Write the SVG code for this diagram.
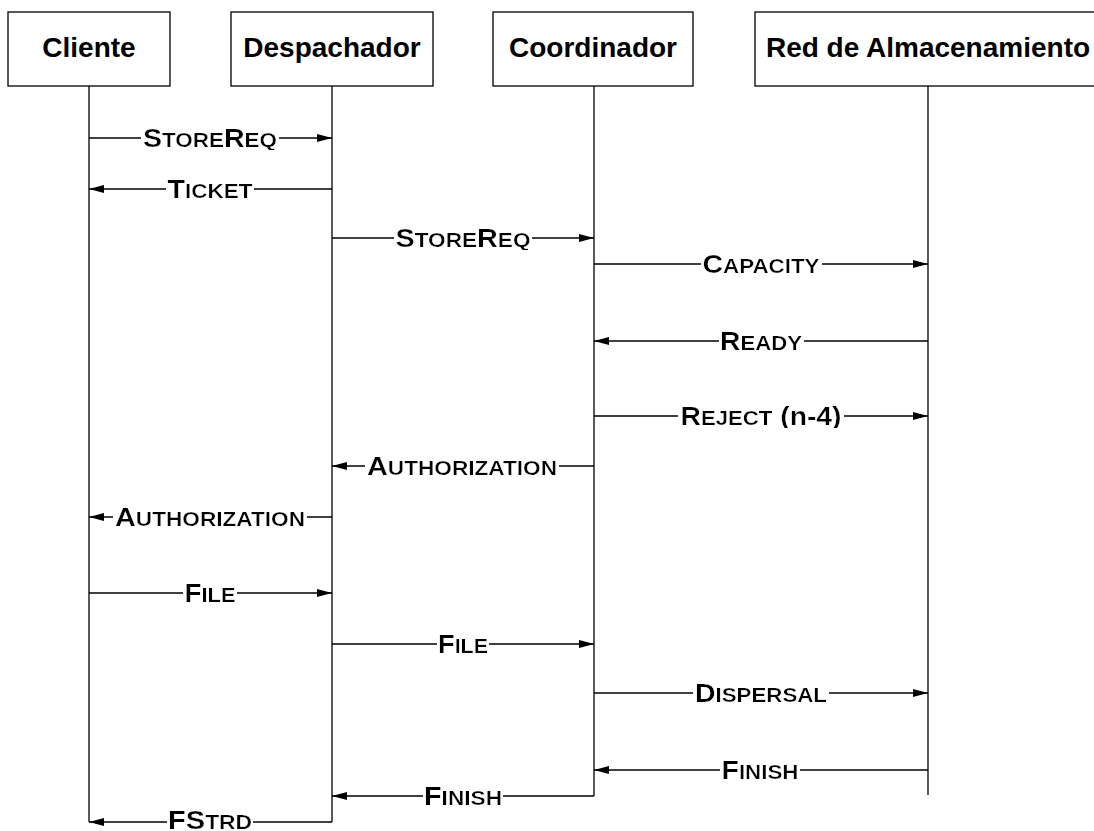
<svg xmlns="http://www.w3.org/2000/svg" width="1094" height="831" viewBox="0 0 1094 831">
  <style>
    .box { fill: #fff; stroke: #000; stroke-width: 1.3; }
    .life { stroke: #000; stroke-width: 1.3; fill: none; }
    .msg { stroke: #000; stroke-width: 1.3; fill: none; marker-end: url(#arrow); }
    .head { font-family: "Liberation Sans", Arial, sans-serif; font-weight: bold; font-size: 28px; text-anchor: middle; fill: #000; }
    .lbl { font-family: "Liberation Sans", Arial, sans-serif; font-weight: bold; text-anchor: middle; fill: #000; filter: url(#bg); }
    .b { font-size: 25.5px; }
    .s { font-size: 20px; }
  </style>
  <defs>
    <marker id="arrow" markerUnits="userSpaceOnUse" markerWidth="15" markerHeight="8" refX="15" refY="4" orient="auto">
      <path d="M0,0 L15,4 L0,8 z" fill="#000"/>
    </marker>
    <!-- white backdrop behind message labels, breaking the line -->
    <filter id="bg" x="-0.01" y="0.1" width="1.02" height="0.8">
      <feFlood flood-color="#fff"/>
      <feComposite in="SourceGraphic" operator="over"/>
    </filter>
  </defs>

  <rect width="1094" height="831" fill="#fff"/>

  <!-- participants -->
  <g id="cliente">
    <rect class="box" x="8" y="12" width="162" height="74"/>
    <text class="head" x="89" y="57">Cliente</text>
    <line class="life" x1="89" y1="86" x2="89" y2="822"/>
  </g>
  <g id="despachador">
    <rect class="box" x="231" y="12" width="202" height="74"/>
    <text class="head" x="332" y="57">Despachador</text>
    <line class="life" x1="332" y1="86" x2="332" y2="822"/>
  </g>
  <g id="coordinador">
    <rect class="box" x="493" y="12" width="200" height="74"/>
    <text class="head" x="593" y="57">Coordinador</text>
    <line class="life" x1="594" y1="86" x2="594" y2="796"/>
  </g>
  <g id="red">
    <rect class="box" x="755" y="12" width="346" height="74"/>
    <text class="head" x="928" y="57">Red de Almacenamiento</text>
    <line class="life" x1="928" y1="86" x2="928" y2="795"/>
  </g>

  <!-- messages -->
  <g id="connectors">
    <line class="msg" x1="89" y1="138" x2="332" y2="138"/>
    <line class="msg" x1="332" y1="189" x2="89" y2="189"/>
    <line class="msg" x1="332" y1="238" x2="594" y2="238"/>
    <line class="msg" x1="594" y1="264" x2="928" y2="264"/>
    <line class="msg" x1="928" y1="341" x2="594" y2="341"/>
    <line class="msg" x1="594" y1="416" x2="928" y2="416"/>
    <line class="msg" x1="594" y1="466" x2="332" y2="466"/>
    <line class="msg" x1="332" y1="517" x2="89" y2="517"/>
    <line class="msg" x1="89" y1="593" x2="332" y2="593"/>
    <line class="msg" x1="332" y1="644" x2="594" y2="644"/>
    <line class="msg" x1="594" y1="693" x2="928" y2="693"/>
    <line class="msg" x1="928" y1="770" x2="594" y2="770"/>
    <line class="msg" x1="594" y1="796" x2="332" y2="796"/>
    <line class="msg" x1="332" y1="822" x2="89" y2="822"/>
  </g>

  <!-- message labels (small caps, slightly widened) -->
  <g id="labels">
    <text class="lbl" x="210" y="147" textLength="134" lengthAdjust="spacingAndGlyphs"><tspan class="b">S</tspan><tspan class="s">TORE</tspan><tspan class="b">R</tspan><tspan class="s">EQ</tspan></text>
    <text class="lbl" x="210" y="198" textLength="85" lengthAdjust="spacingAndGlyphs"><tspan class="b">T</tspan><tspan class="s">ICKET</tspan></text>
    <text class="lbl" x="463" y="247" textLength="135" lengthAdjust="spacingAndGlyphs"><tspan class="b">S</tspan><tspan class="s">TORE</tspan><tspan class="b">R</tspan><tspan class="s">EQ</tspan></text>
    <text class="lbl" x="761" y="273" textLength="117" lengthAdjust="spacingAndGlyphs"><tspan class="b">C</tspan><tspan class="s">APACITY</tspan></text>
    <text class="lbl" x="761" y="350" textLength="82" lengthAdjust="spacingAndGlyphs"><tspan class="b">R</tspan><tspan class="s">EADY</tspan></text>
    <text class="lbl" x="761" y="425" textLength="161" lengthAdjust="spacingAndGlyphs"><tspan class="b">R</tspan><tspan class="s">EJECT</tspan><tspan class="b"> (n-4)</tspan></text>
    <text class="lbl" x="462" y="475" textLength="190" lengthAdjust="spacingAndGlyphs"><tspan class="b">A</tspan><tspan class="s">UTHORIZATION</tspan></text>
    <text class="lbl" x="210" y="526" textLength="190" lengthAdjust="spacingAndGlyphs"><tspan class="b">A</tspan><tspan class="s">UTHORIZATION</tspan></text>
    <text class="lbl" x="210" y="602" textLength="51" lengthAdjust="spacingAndGlyphs"><tspan class="b">F</tspan><tspan class="s">ILE</tspan></text>
    <text class="lbl" x="463" y="653" textLength="50" lengthAdjust="spacingAndGlyphs"><tspan class="b">F</tspan><tspan class="s">ILE</tspan></text>
    <text class="lbl" x="761" y="702" textLength="132" lengthAdjust="spacingAndGlyphs"><tspan class="b">D</tspan><tspan class="s">ISPERSAL</tspan></text>
    <text class="lbl" x="760" y="779" textLength="77" lengthAdjust="spacingAndGlyphs"><tspan class="b">F</tspan><tspan class="s">INISH</tspan></text>
    <text class="lbl" x="463" y="805" textLength="78" lengthAdjust="spacingAndGlyphs"><tspan class="b">F</tspan><tspan class="s">INISH</tspan></text>
    <text class="lbl" x="210" y="829" textLength="84" lengthAdjust="spacingAndGlyphs"><tspan class="b">FS</tspan><tspan class="s">TRD</tspan></text>
  </g>
</svg>
